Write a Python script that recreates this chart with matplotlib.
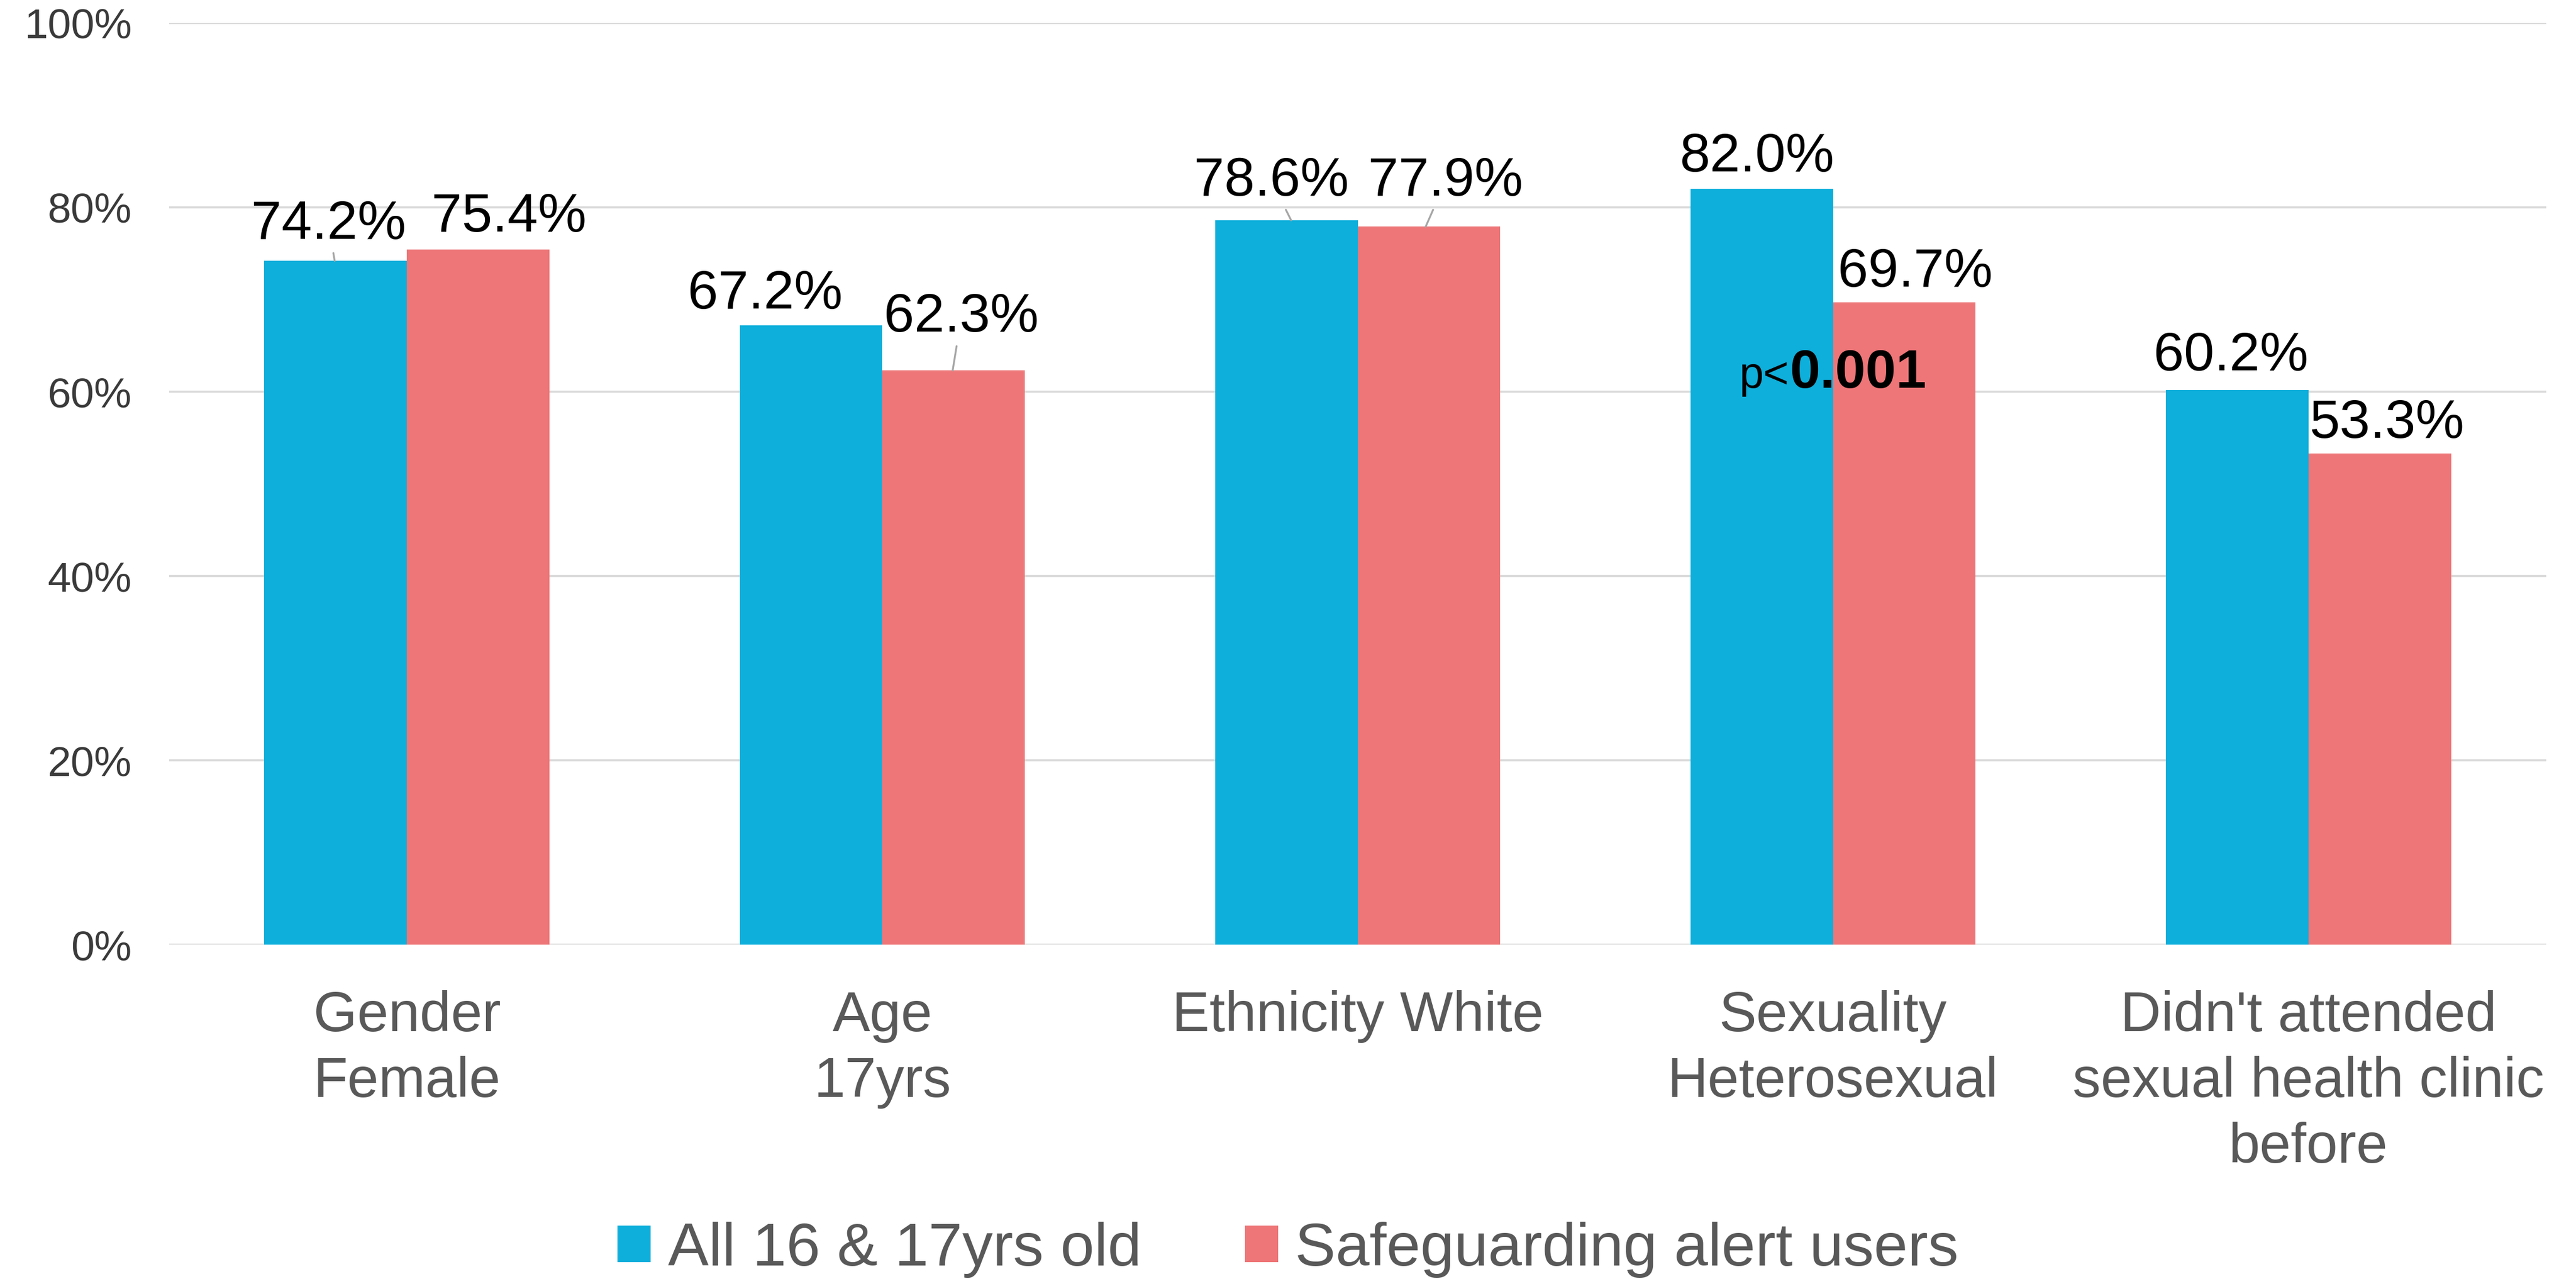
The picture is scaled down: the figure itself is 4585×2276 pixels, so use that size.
import numpy as np
import matplotlib
matplotlib.use("Agg")
import matplotlib.pyplot as plt
from matplotlib.patches import Patch

plt.rcParams['font.family'] = ['Liberation Sans', 'DejaVu Sans']

# data
categories = ["Gender\nFemale", "Age\n17yrs", "Ethnicity White",
              "Sexuality\nHeterosexual", "Didn't attended\nsexual health clinic\nbefore"]
all_users = [74.2, 67.2, 78.6, 82.0, 60.2]
alert_users = [75.4, 62.3, 77.9, 69.7, 53.3]
series_names = ["All 16 & 17yrs old", "Safeguarding alert users"]
y_ticks = [0, 20, 40, 60, 80, 100]

# label placement (layout only): x centre, baseline, leader target x (None = no leader)
all_lbl_x = [-0.165, 0.754, 1.819, 2.840, 3.837]
all_lbl_y = [76.6, 69.0, 81.3, 83.9, 62.3]
all_lead = [-0.152, None, 1.86, None, None]
alert_lbl_x = [0.215, 1.166, 2.185, 3.173, 4.165]
alert_lbl_y = [77.4, 66.5, 81.3, 71.4, 55.0]
alert_lead = [None, 1.148, 2.143, None, None]

BLUE = "#0EAFDB"
RED = "#EE7678"
GRID = "#D9D9D9"

fig = plt.figure(figsize=(22.925, 11.38), dpi=200)
ax = fig.add_axes([0.0657, 0.2614, 0.9227, 0.7206])

x = np.arange(len(categories))
w = 0.3
ax.bar(x - w / 2, all_users, w, color=BLUE, zorder=3)
ax.bar(x + w / 2, alert_users, w, color=RED, zorder=3)

ax.set_xlim(-0.5, len(categories) - 0.5)
ax.set_ylim(0, 100)
ax.set_yticks(y_ticks)
ax.set_yticklabels([f"{t}%" for t in y_ticks])
ax.set_xticks(x)
ax.set_xticklabels(categories, linespacing=1.32)
ax.tick_params(axis='y', length=0, pad=24, labelsize=27, labelcolor="#3A3A3A")
ax.tick_params(axis='x', length=0, pad=29, labelsize=36, labelcolor="#595959")
ax.yaxis.grid(True, color=GRID, lw=1.3, zorder=0)
ax.set_axisbelow(True)
for s in ax.spines.values():
    s.set_visible(False)


def put_labels(vals, xs, ys, leads):
    for v, lx, ly, lead in zip(vals, xs, ys, leads):
        txt = f"{v:.1f}%"
        if lead is None:
            ax.text(lx, ly, txt, ha='center', va='baseline', fontsize=35, color='black', zorder=5)
        else:
            ax.annotate(txt, xy=(lead, v), xytext=(lx, ly), ha='center', va='baseline',
                        fontsize=35, color='black', zorder=5,
                        arrowprops=dict(arrowstyle='-', color='#A6A6A6', lw=1.2,
                                        shrinkA=0, shrinkB=0))


put_labels(all_users, all_lbl_x, all_lbl_y, all_lead)
put_labels(alert_users, alert_lbl_x, alert_lbl_y, alert_lead)

# significance note
ax.text(2.908, 60.4, "p<", ha='right', va='baseline', fontsize=28, color='black', zorder=6)
ax.text(2.908, 60.4, "0.001", ha='left', va='baseline', fontsize=35, fontweight='bold',
        color='black', zorder=6)

handles = [Patch(facecolor=BLUE, edgecolor='none'), Patch(facecolor=RED, edgecolor='none')]
fig.legend(handles, series_names, loc='lower center', bbox_to_anchor=(0.5, 0.001),
           ncol=2, frameon=False, fontsize=39, labelcolor="#595959",
           handlelength=0.55, handleheight=0.55, handletextpad=0.28,
           columnspacing=1.7, borderpad=0, borderaxespad=0)

fig.savefig("out.png", dpi=200)
